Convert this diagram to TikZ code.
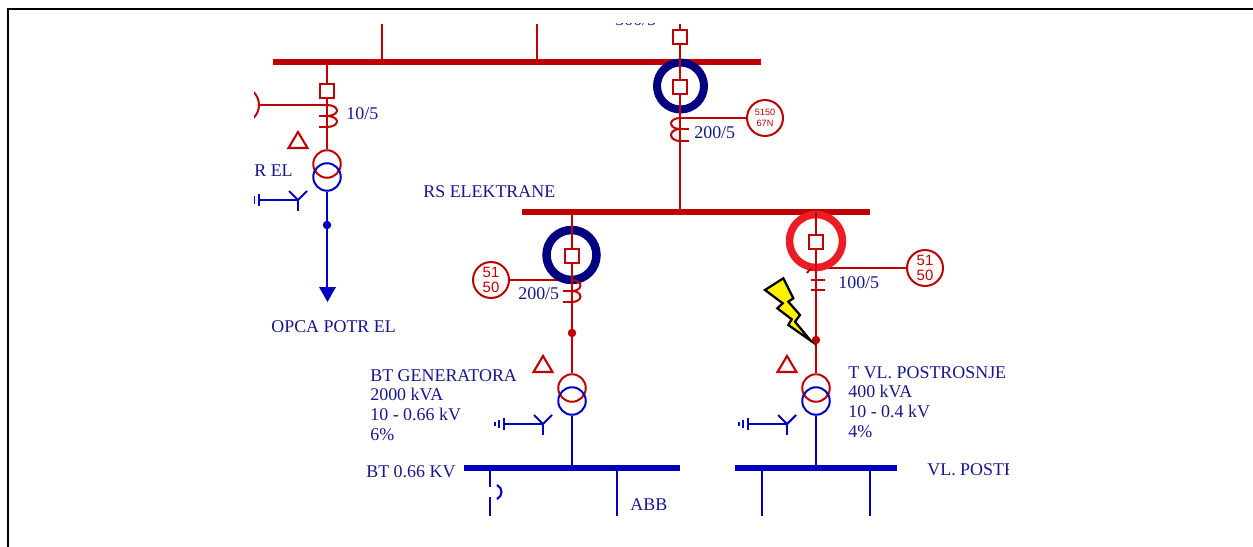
\documentclass[tikz,border=0pt]{standalone}
\usepackage{fontspec}
\setmainfont{Liberation Serif}
\newfontfamily\relayfont{Liberation Sans}
\definecolor{hvred}{HTML}{C00000}
\definecolor{lvblue}{HTML}{0000C0}
\definecolor{labelblue}{HTML}{16168E}
\definecolor{ringblue}{HTML}{000080}
\definecolor{ringred}{HTML}{ED1C24}
\definecolor{boltyellow}{HTML}{FFF200}
\tikzset{
  hvline/.style = {hvred, line width = .04cm},
  lvline/.style = {lvblue, line width = .042cm},
  hvbus/.style = {hvred, line width = .135cm},
  lvbus/.style = {lvblue, line width = .135cm},
  breaker/.style = {draw = hvred, fill = white, line width = .04cm, minimum size = .28cm, inner sep = 0pt},
  relay/.style = {circle, draw = hvred, fill = white, line width = .04cm, minimum size = .72cm, inner sep = 0pt, text = hvred, align = center, font = \relayfont\fontsize{8.5}{9}\selectfont},
  ring/.style = {circle, line width = .16cm, minimum size = .94cm, inner sep = 0pt},
  hvwinding/.style = {circle, draw = hvred, line width = .04cm, minimum size = .55cm, inner sep = 0pt},
  lvwinding/.style = {circle, draw = lvblue, line width = .04cm, minimum size = .55cm, inner sep = 0pt},
  busdot/.style = {circle, minimum size = .17cm, inner sep = 0pt},
  txt/.style = {text = labelblue, inner sep = 0pt, anchor = west, align = left, font = \fontsize{10.2}{11.3}\selectfont}
}
\begin{document}
\begin{tikzpicture}[x = .02cm, y = -.02cm]
  \useasboundingbox (0,0) rectangle (1253,547);
  \draw[line width = .05cm] (8,547) -- (8,9) -- (1253,9);

  \begin{scope}
    \clip (254,24) rectangle (1008,516);

    % bars
    \draw[hvbus] (273,62) -- (761,62);
    \draw[hvbus] (522,212) -- (870,212);
    \draw[lvbus] (464,468) -- (680,468);
    \draw[lvbus] (735,468) -- (897,468);

    \coordinate (barA) at (327,62);
    \coordinate (barB) at (680,62);
    \coordinate (barC) at (680,212);
    \coordinate (barD) at (572,212);
    \coordinate (barE) at (816,212);
    \coordinate (barF) at (572,468);
    \coordinate (barG) at (816,468);

    \draw[hvline] (382,24) -- (382,62);
    \draw[hvline] (537,24) -- (537,62);

    % relays and their stubs go under the rings
    \node[relay] (relayA) at (241,105) {};
    \node[relay, font = \relayfont\fontsize{5.2}{6.4}\selectfont] (relayB) at (765,118) {5150\\67N};
    \node[relay] (relayC) at (491,280) {51\\50};
    \node[relay] (relayD) at (925,268) {51\\50};
    \coordinate (tapA) at (327,105);
    \coordinate (tapB) at (680,118);
    \coordinate (tapC) at (572,280);
    \coordinate (tapD) at (816,268);
    \draw[hvline] (relayA) -- (tapA);
    \draw[hvline] (relayB) -- (tapB);
    \draw[hvline] (relayC) -- (tapC);
    \draw[hvline] (relayD) -- (tapD);

    \node[ring, draw = ringblue] (ringB) at (680.5,86) {};
    \node[ring, draw = ringblue, minimum size = 1.0cm, line width = .17cm] (ringC) at (571.5,255) {};
    \node[ring, draw = ringred, minimum size = 1.06cm, line width = .15cm] (ringD) at (816,241) {};

    % transformers
    \foreach \name/\xx/\yy in {A/327/164, C/572/388, D/816/388} {
      \node[hvwinding] (hv\name) at (\xx,\yy) {};
      \node[lvwinding] (lv\name) at (\xx,\yy+13) {};
    }

    % feeders
    \draw[hvline] (barA) -- (hvA);
    \draw[hvline] (680,24) -- (barB);
    \draw[hvline] (barB) -- (barC);
    \draw[hvline] (barD) -- (hvC);
    \draw[hvline] (barE) -- (hvD);
    \draw[lvline] (lvC) -- (barF);
    \draw[lvline] (lvD) -- (barG);

    \node[breaker] (cbA) at (327,91) {};
    \node[breaker] (cbB1) at (680,37) {};
    \node[breaker] (cbB2) at (680,87) {};
    \node[breaker] (cbC) at (572,256) {};
    \node[breaker] (cbD) at (816,242) {};

    % current transformers
    \draw[hvline] (327,105) arc (-90:90:10 and 5.5) (327,116) arc (-90:90:10 and 5.5);
    \draw[hvline] (319,116) -- (327,116) (319,127) -- (327,127);
    \draw[hvline] (680,118) arc (270:90:9 and 5.5) (680,129) arc (270:90:9 and 6);
    \draw[hvline] (680,129) -- (689,129) (680,141) -- (689,141);
    \draw[hvline] (572,280) arc (-90:90:8.5 and 5.5) (572,291) arc (-90:90:8.5 and 5.5);
    \draw[hvline] (563,291) -- (572,291) (563,302) -- (572,302);
    \draw[hvline] (811,280) -- (825,280) (811,290) -- (825,290);
    \draw[hvline] (807,273) .. controls (808,271) and (810,269) .. (812,269);

    % dots
    \coordinate (loadA) at (327,289);
    \draw[lvline] (lvA) -- (loadA);
    \node[busdot, fill = lvblue] (dotA) at (327,225) {};
    \node[busdot, fill = hvred] (dotC) at (572,333) {};
    \node[busdot, fill = hvred] (dotD) at (816,340) {};
    \fill[lvblue] (319,287) -- (336,287) -- (327.5,302) -- cycle;

    % delta and star windings
    \foreach \xx/\yy in {298/141, 543/365, 787/365} {
      \draw[hvred, line width = .042cm] (\xx-9.5,\yy+7) -- (\xx+9.5,\yy+7) -- (\xx,\yy-9) -- cycle;
    }
    \foreach \xx/\yy in {298/200, 543/424, 787/424} {
      \draw[lvline] (\xx-9,\yy-9) -- (\xx,\yy) -- (\xx+9,\yy-9);
      \draw[lvline] (\xx,\yy) -- (\xx,\yy+11);
      \draw[lvline] (\xx,\yy) -- (\xx-39,\yy);
      \draw[lvline] (\xx-39,\yy-6) -- (\xx-39,\yy+6);
      \draw[lvline] (\xx-44,\yy-4) -- (\xx-44,\yy+4);
      \draw[lvline] (\xx-48,\yy-2) -- (\xx-48,\yy+2);
    }

    % outgoing lines
    \draw[lvline] (490,468) -- (490,487);
    \draw[lvline] (490,497) -- (490,516);
    \draw[lvline] (497,485) .. controls (503,488) and (503,496) .. (497,499);
    \draw[lvline] (617,468) -- (617,516);
    \draw[lvline] (762,468) -- (762,516);
    \draw[lvline] (870,468) -- (870,516);

    % bolt
    \draw[fill = boltyellow, line width = .045cm] (765,290) -- (783.3,278.3) -- (793.3,298.3) -- (788.3,301.7)
      -- (800,315) -- (795,321.7) -- (810.7,340.7) -- (788.3,325) -- (791.7,319.3)
      -- (777.3,308.3) -- (782.7,303.3) -- cycle;

    % labels
    \node[txt] (ratioB1) at (615,20) {500/5};
    \node[txt] (ratioA) at (346,114) {10/5};
    \node[txt] (ratioB2) at (694,133) {200/5};
    \node[txt] (ratioC) at (518,294) {200/5};
    \node[txt] (ratioD) at (838,283) {100/5};
    \node[txt] (nameA) at (254,171) {R EL};
    \node[txt] (nameBar) at (423,192) {RS ELEKTRANE};
    \node[txt] (nameLoad) at (271,327) {OPCA POTR EL};
    \node[txt] (nameC) at (370,405) {BT GENERATORA\\2000 kVA\\10 - 0.66 kV\\6\%};
    \node[txt] (nameD) at (848,402) {T VL. POSTROSNJE\\400 kVA\\10 - 0.4 kV\\4\%};
    \node[txt] (nameF) at (366,472) {BT 0.66 KV};
    \node[txt] (nameAbb) at (630,505) {ABB};
    \node[txt] (nameG) at (927,470) {VL. POSTROSNJE};
  \end{scope}
\end{tikzpicture}
\end{document}
